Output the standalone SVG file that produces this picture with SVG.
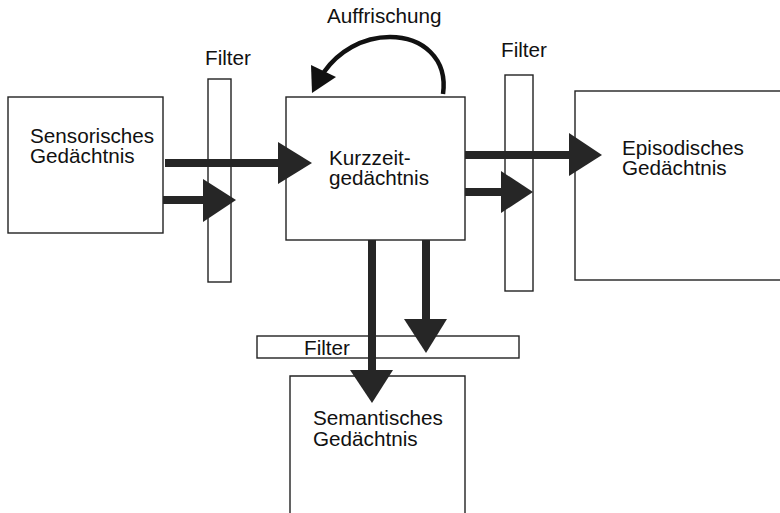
<svg xmlns="http://www.w3.org/2000/svg" width="780" height="513" viewBox="0 0 780 513">
<style>
.box{fill:#fff;stroke:#222;stroke-width:1.4}
.lbl{font-family:"Liberation Sans",Arial,sans-serif;font-size:20.7px;fill:#111}
.shaft{stroke:#262626;stroke-width:8;fill:none}
.head{fill:#262626}
</style>
<rect width="780" height="513" fill="#fff"/>
<g id="sensorisches">
<rect class="box" x="8" y="97" width="155" height="136"/>
<text class="lbl" x="30" y="143">Sensorisches</text>
<text class="lbl" x="30" y="163">Gedächtnis</text>
</g>
<g id="filter-left">
<rect class="box" x="208" y="79" width="23" height="203"/>
<text class="lbl" x="205" y="65">Filter</text>
</g>
<g id="kurzzeit">
<rect class="box" x="286" y="97" width="179" height="143"/>
<text class="lbl" x="329" y="165">Kurzzeit-</text>
<text class="lbl" x="329" y="185">gedächtnis</text>
</g>
<g id="filter-right">
<rect class="box" x="505" y="75" width="28" height="216"/>
<text class="lbl" x="501" y="57">Filter</text>
</g>
<g id="episodisches">
<rect class="box" x="575" y="91" width="210" height="189"/>
<text class="lbl" x="622" y="155">Episodisches</text>
<text class="lbl" x="622" y="175">Gedächtnis</text>
</g>
<g id="filter-bottom">
<rect class="box" x="257" y="336" width="262" height="22"/>
<text class="lbl" x="304" y="355">Filter</text>
</g>
<g id="semantisches">
<path class="box" d="M290,515 V376 H465 V515"/>
<text class="lbl" x="313" y="425">Semantisches</text>
<text class="lbl" x="313" y="446">Gedächtnis</text>
</g>
<g id="auffrischung">
<text class="lbl" x="327" y="23">Auffrischung</text>
</g>
<g id="connectors">
<line class="shaft" x1="165" y1="163" x2="282" y2="163"/>
<polygon class="head" points="278,142 312,163 278,184"/>
<line class="shaft" x1="163" y1="200" x2="206" y2="200"/>
<polygon class="head" points="203,179 236,200 203,222"/>
<line class="shaft" x1="465" y1="155" x2="572" y2="155"/>
<polygon class="head" points="569,133 602,155 569,176"/>
<line class="shaft" x1="465" y1="192" x2="504" y2="192"/>
<polygon class="head" points="501,171 533,192 501,213"/>
<line class="shaft" x1="372" y1="240" x2="372" y2="373"/>
<polygon class="head" points="350,370 393,370 372,403"/>
<line class="shaft" x1="426" y1="240" x2="426" y2="322"/>
<polygon class="head" points="404,319 447,319 426,353"/>
<path d="M443,94 C448,58 422,37 390,37 C362,37 338,52 324,72" fill="none" stroke="#111" stroke-width="4.5"/>
<polygon points="311,65 336,77 312,93" fill="#111"/>
</g>
</svg>
